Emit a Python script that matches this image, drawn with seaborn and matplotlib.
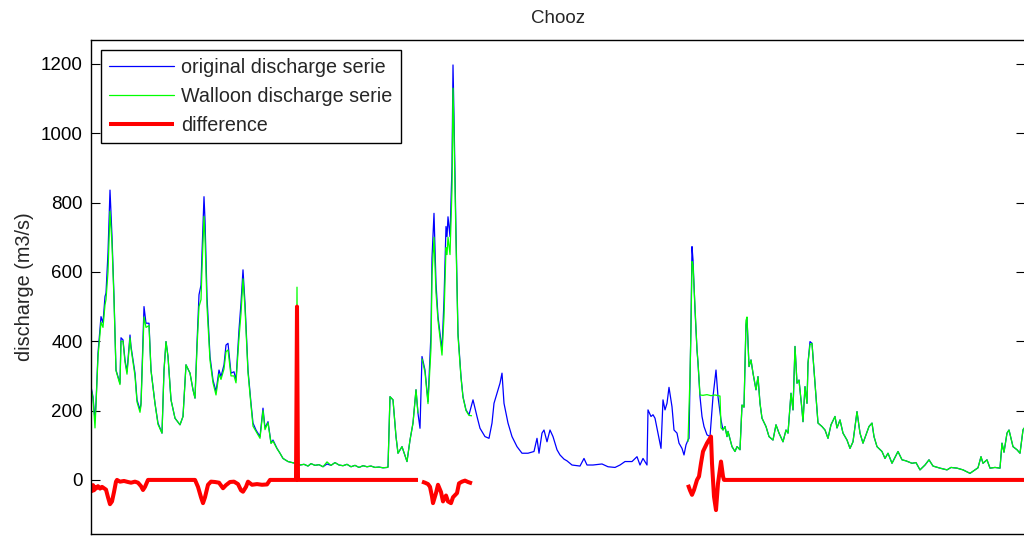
import numpy as np
import pandas as pd
import matplotlib
matplotlib.use("Agg")
import matplotlib.pyplot as plt
import seaborn as sns
from matplotlib.lines import Line2D
from matplotlib.legend_handler import HandlerLine2D

# ---------------- data ----------------
title = "Chooz"
ylabel = "discharge (m3/s)"
labels = ["original discharge serie", "Walloon discharge serie", "difference"]
yticks = [0, 200, 400, 600, 800, 1000, 1200]

# original discharge serie (day index, m3/s)
orig_day = [0, 2, 4, 5, 7, 10, 12, 14, 15, 17, 19, 21, 23, 25, 29, 30, 32, 34, 36, 39,
            40, 44, 46, 49, 50, 53, 55, 58, 60, 64, 67, 71, 73, 75, 77, 80, 84, 89, 92, 95,
            99, 102, 104, 106, 108, 110, 111, 113, 114, 116, 119, 122, 125, 128, 130, 133, 135, 137, 140, 143,
            145, 148, 150, 152, 154, 157, 160, 162, 165, 169, 172, 174, 177, 180, 182, 186, 189, 192, 197, 204,
            206, 209, 213, 217, 220, 224, 228, 232, 236, 240, 244, 248, 252, 256, 260, 264, 268, 272, 276, 280,
            284, 288, 292, 296, 297, 299, 302, 305, 307, 311, 316, 319, 322, 325, 327, 329, 331, 334, 337, 340,
            341, 343, 345, 347, 351, 353, 355, 356, 357, 359, 361, 362, 363, 365, 367, 370, 372, 375, 378, 382,
            386, 389, 394, 398, 401, 403, 406, 409, 411, 413, 417, 421, 426, 431, 437, 443, 446, 448, 451, 453,
            456, 459, 462, 466, 469, 473, 476, 481, 489, 493, 496, 502, 511, 517, 524, 529, 534, 541, 546, 549,
            552, 556, 557, 560, 562, 564, 567, 570, 572, 574, 576, 578, 581, 583, 586, 588, 591, 593, 595, 597,
            598, 600, 601, 602, 604, 606, 607, 609, 611, 613, 616, 619, 622, 625, 627, 630, 632, 634, 636, 637,
            641, 644, 646, 649, 651, 653, 655, 656, 658, 660, 662, 665, 667, 669, 671, 675, 678, 682, 685, 688,
            692, 695, 697, 700, 702, 704, 706, 708, 711, 712, 714, 716, 717, 719, 721, 723, 725, 727, 731, 734,
            737, 740, 744, 746, 749, 752, 756, 759, 762, 766, 769, 772, 778, 781, 783, 786, 791, 794, 797, 801,
            804, 807, 811, 815, 821, 825, 829, 834, 838, 842, 849, 856, 860, 866, 872, 879, 884, 887, 890, 892,
            896, 899, 904, 909, 911, 913, 916, 918, 922, 926, 929, 932, 933]
orig_val = [269, 240, 173, 222, 366, 471, 453, 529, 539, 655, 836, 702, 529, 317, 279, 410, 404, 346, 312, 418,
            385, 308, 231, 202, 221, 500, 452, 452, 317, 221, 164, 135, 317, 399, 356, 231, 178, 159, 183, 332,
            308, 260, 236, 394, 534, 562, 654, 817, 750, 529, 356, 288, 255, 317, 298, 332, 389, 394, 308, 312,
            288, 433, 510, 606, 510, 317, 221, 164, 144, 125, 207, 150, 168, 107, 115, 91, 77, 62, 53, 48,
            48, 43, 45, 40, 47, 42, 44, 38, 46, 42, 50, 43, 41, 45, 38, 42, 36, 41, 38, 40,
            36, 37, 35, 36, 37, 240, 231, 125, 77, 96, 53, 115, 164, 260, 192, 149, 356, 317, 226, 423,
            640, 769, 567, 471, 375, 519, 731, 702, 759, 702, 904, 1197, 1048, 712, 423, 298, 240, 202, 188, 231,
            183, 149, 125, 120, 164, 221, 250, 279, 308, 221, 164, 125, 96, 77, 77, 82, 120, 77, 135, 144,
            110, 144, 125, 87, 72, 60, 55, 43, 40, 62, 43, 43, 46, 38, 36, 43, 53, 53, 67, 43,
            62, 43, 202, 183, 188, 178, 135, 91, 231, 202, 221, 267, 211, 144, 135, 106, 91, 72, 101, 115,
            120, 452, 673, 635, 490, 375, 337, 240, 183, 154, 130, 125, 240, 317, 240, 173, 144, 154, 125, 140,
            96, 82, 96, 87, 216, 210, 447, 466, 327, 346, 308, 260, 298, 221, 178, 154, 125, 115, 159, 135,
            110, 144, 135, 250, 202, 385, 279, 288, 202, 168, 269, 221, 337, 399, 394, 317, 240, 164, 154, 144,
            120, 159, 183, 150, 173, 135, 115, 91, 110, 197, 135, 106, 154, 164, 125, 96, 82, 62, 77, 48,
            65, 82, 58, 55, 48, 50, 29, 43, 58, 40, 34, 29, 36, 34, 29, 19, 29, 35, 67, 48,
            58, 34, 36, 34, 106, 80, 135, 144, 96, 87, 77, 144, 150]

# Walloon discharge serie: three separate stretches
wal_day_a = [0, 2, 4, 5, 7, 10, 12, 14, 15, 17, 19, 21, 23, 25, 29, 30, 32, 34, 36, 39,
             40, 44, 46, 49, 50, 53, 55, 58, 60, 64, 67, 71, 73, 75, 77, 80, 84, 89, 92, 95,
             99, 102, 104, 106, 108, 110, 111, 113, 114, 116, 119, 122, 125, 128, 130, 133, 135, 137, 140, 143,
             145, 148, 150, 152, 154, 157, 160, 162, 165, 169, 172, 174, 177, 180, 182, 186, 189, 192, 197, 204,
             205, 206, 207, 209, 213, 217, 220, 224, 228, 232, 236, 240, 244, 248, 252, 256, 260, 264, 268, 272,
             276, 280, 284, 288, 292, 296, 297, 299, 302, 305, 307, 311, 316, 319, 322, 325, 327]
wal_val_a = [265, 235, 150, 215, 355, 455, 440, 505, 520, 600, 775, 680, 520, 315, 275, 400, 400, 340, 305, 410,
             380, 300, 225, 195, 215, 470, 440, 445, 315, 220, 160, 135, 315, 399, 356, 231, 178, 159, 183, 332,
             308, 260, 236, 380, 500, 520, 610, 760, 700, 500, 345, 280, 245, 305, 290, 320, 370, 375, 300, 300,
             280, 410, 480, 580, 495, 310, 215, 155, 140, 120, 200, 145, 165, 105, 112, 90, 77, 62, 53, 48,
             48, 556, 48, 43, 45, 40, 47, 42, 44, 38, 52, 42, 50, 43, 41, 45, 38, 42, 36, 41,
             38, 40, 36, 37, 35, 36, 37, 240, 231, 125, 77, 96, 53, 115, 164, 260, 192]
wal_day_b = [331, 334, 337, 340, 341, 343, 345, 347, 351, 353, 355, 356, 357, 359, 361, 362, 363, 365, 367, 370,
             372, 375, 378, 381]
wal_val_b = [350, 310, 220, 380, 590, 700, 540, 460, 360, 470, 670, 650, 700, 650, 840, 1130, 1000, 690, 415, 295,
             238, 200, 186, 185]
wal_day_c = [597, 599, 600, 601, 602, 604, 606, 607, 609, 612, 616, 620, 624, 629, 630, 632, 634, 636, 637,
             641, 644, 646, 649, 651, 653, 655, 656, 658, 660, 662, 665, 667, 669, 671, 675, 678, 682, 685, 688,
             692, 695, 697, 700, 702, 704, 706, 708, 711, 712, 714, 716, 717, 719, 721, 723, 725, 727, 731, 734,
             737, 740, 744, 746, 749, 752, 756, 759, 762, 766, 769, 772, 778, 781, 783, 786, 791, 794, 797, 801,
             804, 807, 811, 815, 821, 825, 829, 834, 838, 842, 849, 856, 860, 866, 872, 879, 884, 887, 890, 892,
             896, 899, 904, 909, 911, 913, 916, 918, 922, 926, 929, 932, 933]
wal_val_c = [110, 300, 440, 630, 620, 500, 375, 340, 245, 244, 246, 243, 245, 242, 150, 144, 154, 125, 140,
             96, 82, 96, 87, 216, 210, 460, 470, 327, 346, 308, 260, 298, 221, 178, 154, 125, 115, 159, 135,
             110, 144, 135, 250, 202, 385, 279, 288, 202, 168, 269, 221, 337, 390, 394, 317, 240, 164, 154, 144,
             120, 159, 183, 150, 173, 135, 115, 91, 110, 197, 135, 106, 154, 164, 125, 96, 82, 62, 77, 48,
             65, 82, 58, 55, 48, 50, 29, 43, 58, 40, 34, 29, 36, 34, 29, 19, 29, 35, 67, 48,
             58, 34, 36, 34, 106, 80, 135, 144, 96, 87, 77, 144, 150]

# difference (Walloon - original), three stretches
diff_day_a = [0, 1, 2, 3, 4, 5, 7, 9, 11, 13, 15, 17, 19, 21, 23, 25, 26, 29, 33, 37,
              40, 44, 47, 50, 52, 54, 57, 104, 107, 110, 112, 114, 117, 120, 124, 128, 132, 135, 139, 143,
              147, 150, 152, 155, 157, 161, 166, 171, 176, 179, 205, 206, 207, 327]
diff_val_a = [-18, -32, -15, -30, -20, -25, -18, -25, -20, -24, -28, -50, -70, -62, -35, -5, 0, -5, -3, -6,
              -8, -5, -8, -18, -29, -20, 0, 0, -20, -50, -67, -50, -14, -5, -6, -8, -24, -15, -6, -5,
              -12, -30, -34, -20, -5, -14, -12, -14, -13, 0, 0, 500, 0, 0]
diff_day_b = [331, 334, 337, 339, 341, 342, 345, 347, 350, 352, 355, 357, 360, 362, 366, 368, 371, 374, 377, 381]
diff_val_b = [-5, -8, -12, -20, -48, -67, -38, -14, -35, -62, -45, -62, -67, -50, -38, -10, -5, -2, -6, -10]
diff_day_c = [597, 599, 601, 603, 606, 608, 610, 612, 616, 620, 621, 623, 625, 627, 630, 632, 633, 933]
diff_val_c = [-14, -30, -43, -29, 0, 10, 48, 82, 106, 125, 48, -48, -87, -10, 53, 10, 0, 0]

# ---------------- figure ----------------
sns.set_style("white")
plt.rcParams["font.family"] = ["Liberation Sans", "DejaVu Sans"]
plt.rcParams["font.size"] = 13.5

W, H = 1024, 536
fig = plt.figure(figsize=(W / 100, H / 100), dpi=100)
ax_l, ax_r, ax_t, ax_b = 91, 1025, 40, 534
ax = fig.add_axes([ax_l / W, (H - ax_b) / H, (ax_r - ax_l) / W, (ax_b - ax_t) / H])


def frame(days_list, vals_list):
    parts = []
    for k, (d, v) in enumerate(zip(days_list, vals_list)):
        parts.append(pd.DataFrame({"day": d, "value": v, "seg": k}))
    return pd.concat(parts, ignore_index=True)


df_orig = frame([orig_day], [orig_val])
df_wal = frame([wal_day_a, wal_day_b, wal_day_c], [wal_val_a, wal_val_b, wal_val_c])
df_diff = frame([diff_day_a, diff_day_b, diff_day_c], [diff_val_a, diff_val_b, diff_val_c])

sns.lineplot(data=df_orig, x="day", y="value", units="seg", estimator=None, sort=False,
             color="#0000ff", lw=0.9, ax=ax, legend=False)
sns.lineplot(data=df_wal, x="day", y="value", units="seg", estimator=None, sort=False,
             color="#00ff00", lw=0.9, ax=ax, legend=False)
sns.lineplot(data=df_diff, x="day", y="value", units="seg", estimator=None, sort=False,
             color="#ff0000", lw=2.9, ax=ax, legend=False)
for ln in ax.lines:
    ln.set_solid_capstyle("butt")

ax.set_xlim(0, 934)
ax.set_ylim(-156, 1269)
ax.set_xticks([])
ax.set_yticks(yticks)
ax.set_yticklabels([str(t) for t in yticks])
ax.tick_params(axis="y", which="both", direction="in", length=6.7, width=0.8,
               left=True, right=True, labelsize=13.5, pad=6, colors="black")
ax.set_xlabel("")
ax.set_ylabel(ylabel, fontsize=14.3, labelpad=5)
ax.set_title(title, fontsize=13.5, pad=12)
for sp in ax.spines.values():
    sp.set_visible(True)
    sp.set_color("black")
    sp.set_linewidth(1.0)


class SegHandler(HandlerLine2D):
    """Legend line drawn over a fraction of the handle box (MATLAB look)."""

    def __init__(self, start=0.0, end=1.0, **kw):
        super().__init__(**kw)
        self.start = start
        self.end = end

    def create_artists(self, legend, orig_handle, xdescent, ydescent, width, height, fontsize, trans):
        arts = super().create_artists(legend, orig_handle, xdescent, ydescent, width,
                                      height, fontsize, trans)
        x0 = -xdescent + self.start * width
        x1 = -xdescent + self.end * width
        for a in arts:
            xd = a.get_xdata()
            if len(xd) == 2:
                a.set_xdata([x0, x1])
        return arts


handles = [Line2D([], [], color="#0000ff", lw=0.9),
           Line2D([], [], color="#00ff00", lw=0.9),
           Line2D([], [], color="#ff0000", lw=2.9, solid_capstyle="butt")]
leg = ax.legend(handles, labels, loc="upper left", bbox_to_anchor=(10 / 934, (534 - 50) / 494),
                borderaxespad=0, frameon=True, fancybox=False, framealpha=1, edgecolor="black",
                fontsize=14.2, handlelength=3.3, handletextpad=0.36, labelspacing=0.5,
                borderpad=0.42,
                handler_map={handles[0]: SegHandler(0.07, 1.0),
                             handles[1]: SegHandler(0.07, 0.77),
                             handles[2]: SegHandler(0.07, 1.0)})
leg.get_frame().set_linewidth(1.0)

fig.savefig("out.png", dpi=100)
